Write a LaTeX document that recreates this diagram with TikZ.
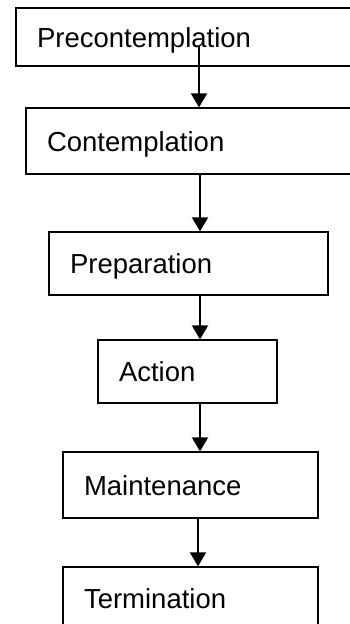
\documentclass[tikz,border=0pt]{standalone}
\usepackage{fontspec}
\setmainfont{Liberation Sans}
\usepackage{tikz}
\usetikzlibrary{positioning,arrows.meta}

\begin{document}
\begin{tikzpicture}[
    x=1pt, y=-1pt,
    >={Triangle[width=16pt,length=14pt]},
    every node/.style={font=\fontsize{27.5pt}{33pt}\selectfont},
    stage/.style={draw, line width=1.3pt, inner xsep=21pt, inner ysep=0pt,
                  align=left, text height=20pt, text depth=0pt},
    link/.style={->, line width=2pt}
]
\useasboundingbox (0,0) rectangle (350,624);

% ---------------- Stages ----------------
\node[stage, text width=302pt, minimum height=58pt] (pre)  at (188,37)    {Precontemplation};
\node[stage, text width=292pt, minimum height=66pt] (con)  at (193,141)   {Contemplation};
\node[stage, text width=237pt, minimum height=63pt] (prep) at (188.5,263.5) {Preparation};
\node[stage, text width=137pt, minimum height=63pt] (act)  at (187.5,371.5) {Action};
\node[stage, text width=213pt, minimum height=66pt] (mai)  at (190.5,485) {Maintenance};
\node[stage, text width=213pt, minimum height=63pt] (ter)  at (190.5,598.5) {Termination};

\coordinate (axis) at (200,0);

% ---------------- Transitions ----------------
\draw[link] ([xshift=-1pt,yshift=-8pt]pre.center -| axis) -- ([xshift=-1pt]con.north -| axis);
\draw[link] (con.south -| axis) -- (prep.north -| axis);
\draw[link] (prep.south -| axis) -- (act.north -| axis);
\draw[link] (act.south -| axis) -- (mai.north -| axis);
\draw[link] ([xshift=-2pt]mai.south -| axis) -- ([xshift=-2pt]ter.north -| axis);

\end{tikzpicture}
\end{document}
